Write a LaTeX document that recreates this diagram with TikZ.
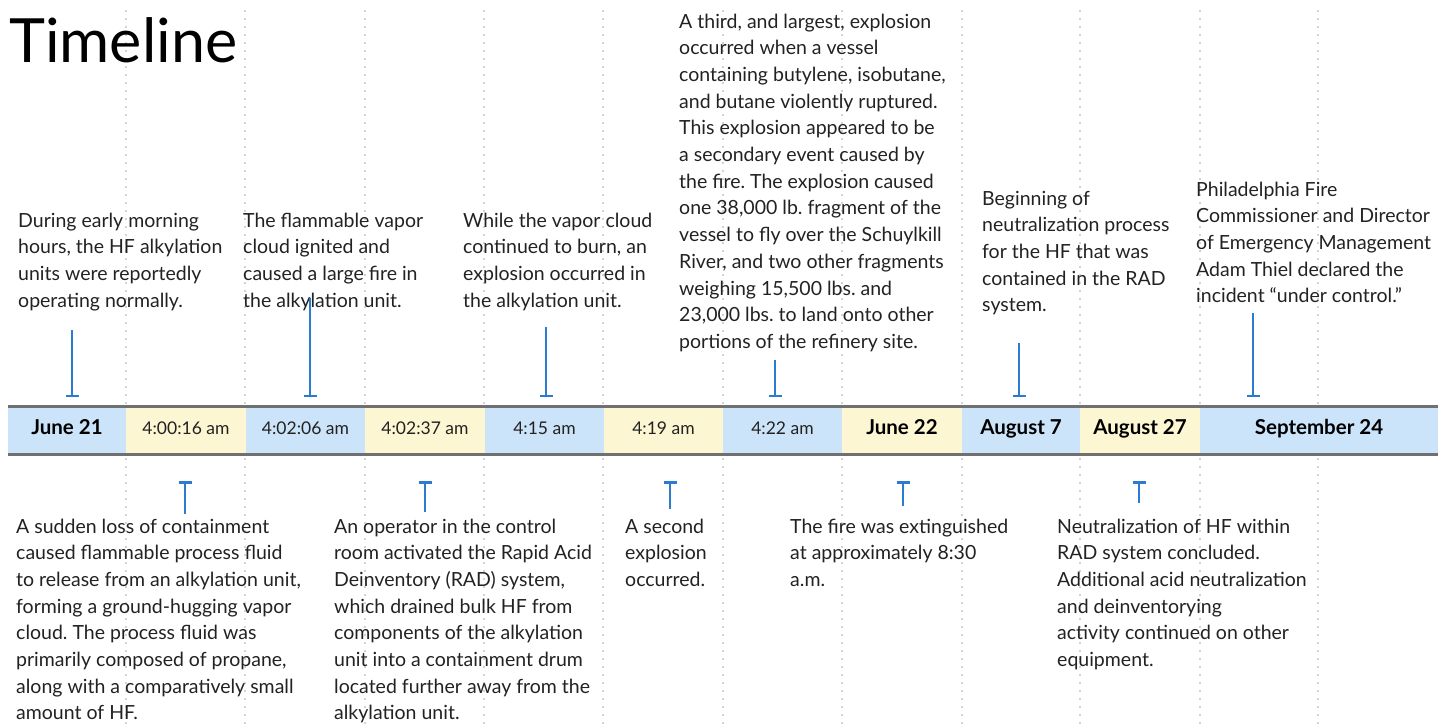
\documentclass[tikz,border=0pt]{standalone}
\usepackage{fontspec}
\setmainfont{Lato}
\usetikzlibrary{arrows.meta,positioning}
\frenchspacing

\definecolor{barblue}{HTML}{CCE4F9}
\definecolor{baryellow}{HTML}{FDF6D3}
\definecolor{tickblue}{HTML}{2B7BD3}
\definecolor{barline}{HTML}{707070}
\definecolor{textgray}{HTML}{222222}

\tikzset{
  grid/.style={gray!35, line width=2pt, dash pattern=on 1.6pt off 6.4pt},
  seg/.style={minimum width=#1, minimum height=47pt, inner sep=0pt, text height=12pt, text depth=3pt},
  timelbl/.style={font=\fontsize{17.5}{20}\selectfont, text=textgray},
  datelbl/.style={font=\fontsize{20.5}{22}\selectfont\bfseries, text=black},
  evtext/.style={anchor=base west, align=left, inner sep=0pt, text=textgray,
    font=\fontsize{19.5}{26.7}\selectfont\frenchspacing},
  tick/.style={tickblue, line width=2.5pt, -{Bar[width=13pt]}}
}

\begin{document}
\begin{tikzpicture}[x=1pt,y=-1pt]
        \useasboundingbox (0,0) rectangle (1450,724);

        % dotted guides
        \draw [grid] (126,10) -- (126,724);
        \draw [grid] (245,10) -- (245,724);
        \draw [grid] (365,10) -- (365,724);
        \draw [grid] (484,10) -- (484,724);
        \draw [grid] (603,10) -- (603,724);
        \draw [grid] (723,10) -- (723,724);
        \draw [grid] (842,10) -- (842,724);
        \draw [grid] (962,10) -- (962,724);
        \draw [grid] (1080,10) -- (1080,724);
        \draw [grid] (1200,10) -- (1200,724);
        \draw [grid] (1318,10) -- (1318,724);

        \node [anchor=base west, inner sep=0pt, font=\fontsize{61}{61}\selectfont] (title) at (9,62) {Timeline};

        % the bar
        \node [seg=118pt, fill=barblue, datelbl] (jun21) at (67,430) {June 21};
        \node [seg=120pt, fill=baryellow, timelbl] (t1) at (186,430) {4:00:16 am};
        \node [seg=119pt, fill=barblue, timelbl] (t2) at (305.5,430) {4:02:06 am};
        \node [seg=120pt, fill=baryellow, timelbl] (t3) at (425,430) {4:02:37 am};
        \node [seg=119pt, fill=barblue, timelbl] (t4) at (544.5,430) {4:15 am};
        \node [seg=119pt, fill=baryellow, timelbl] (t5) at (663.5,430) {4:19 am};
        \node [seg=119pt, fill=barblue, timelbl] (t6) at (782.5,430) {4:22 am};
        \node [seg=120pt, fill=baryellow, datelbl] (jun22) at (902,430) {June 22};
        \node [seg=118pt, fill=barblue, datelbl] (aug7) at (1021,430) {August 7};
        \node [seg=120pt, fill=baryellow, datelbl] (aug27) at (1140,430) {August 27};
        \node [seg=238pt, fill=barblue, datelbl] (sep24) at (1319,430) {September 24};
        \draw [barline, line width=3pt] (8,406) -- (1438,406);
        \draw [barline, line width=3pt] (8,454) -- (1438,454);

        % events above (placed by the baseline of the last line)
        \node [evtext] (ev1) at (18,307.1) {During early morning\\hours, the HF alkylation\\units were reportedly\\operating normally.};
        \node [evtext] (ev3) at (243,307.1) {The flammable vapor\\cloud ignited and\\caused a large fire in\\the alkylation unit.};
        \node [evtext] (ev5) at (463,307.1) {While the vapor cloud\\continued to burn, an\\explosion occurred in\\the alkylation unit.};
        \node [evtext] (ev7) at (679,348.4) {A third, and largest, explosion\\occurred when a vessel\\containing butylene, isobutane,\\and butane violently ruptured.\\This explosion appeared to be\\a secondary event caused by\\the fire. The explosion caused\\one 38,000 lb. fragment of the\\vessel to fly over the Schuylkill\\River, and two other fragments\\weighing 15,500 lbs. and\\23,000 lbs. to land onto other\\portions of the refinery site.};
        \node [evtext] (ev9) at (982,311.8) {Beginning of\\neutralization process\\for the HF that was\\contained in the RAD\\system.};
        \node [evtext] (ev11) at (1196,302.8) {Philadelphia Fire\\Commissioner and Director\\of Emergency Management\\Adam Thiel declared the\\incident “under control.”};

        % events below
        \node [evtext] (ev2) at (16,719.9) {A sudden loss of containment\\caused flammable process fluid\\to release from an alkylation unit,\\forming a ground-hugging vapor\\cloud. The process fluid was\\primarily composed of propane,\\along with a comparatively small\\amount of HF.};
        \node [evtext] (ev4) at (334,719.9) {An operator in the control\\room activated the Rapid Acid\\Deinventory (RAD) system,\\which drained bulk HF from\\components of the alkylation\\unit into a containment drum\\located further away from the\\alkylation unit.};
        \node [evtext] (ev6) at (625,586.4) {A second\\explosion\\occurred.};
        \node [evtext] (ev8) at (790,586.4) {The fire was extinguished\\at approximately 8:30\\a.m.};
        \node [evtext] (ev10) at (1057,666.5) {Neutralization of HF within\\RAD system concluded.\\Additional acid neutralization\\and deinventorying\\activity continued on other\\equipment.};

        % ticks
        \coordinate (ev1a) at (72,330);   \coordinate (ev1b) at (72,397);
        \coordinate (ev3a) at (310,298);  \coordinate (ev3b) at (310,397);
        \coordinate (ev5a) at (546,327);  \coordinate (ev5b) at (546,397);
        \coordinate (ev7a) at (775,360);  \coordinate (ev7b) at (775,397);
        \coordinate (ev9a) at (1019,343); \coordinate (ev9b) at (1019,397);
        \coordinate (ev11a) at (1253,313); \coordinate (ev11b) at (1253,397);
        \draw [tick] (ev1a) -- (ev1b);
        \draw [tick] (ev3a) -- (ev3b);
        \draw [tick] (ev5a) -- (ev5b);
        \draw [tick] (ev7a) -- (ev7b);
        \draw [tick] (ev9a) -- (ev9b);
        \draw [tick] (ev11a) -- (ev11b);

        \coordinate (ev2a) at (185,514);  \coordinate (ev2b) at (185,481);
        \coordinate (ev4a) at (425,512);  \coordinate (ev4b) at (425,481);
        \coordinate (ev6a) at (670,509);  \coordinate (ev6b) at (670,481);
        \coordinate (ev8a) at (903,506);  \coordinate (ev8b) at (903,481);
        \coordinate (ev10a) at (1139,503); \coordinate (ev10b) at (1139,481);
        \draw [tick] (ev2a) -- (ev2b);
        \draw [tick] (ev4a) -- (ev4b);
        \draw [tick] (ev6a) -- (ev6b);
        \draw [tick] (ev8a) -- (ev8b);
        \draw [tick] (ev10a) -- (ev10b);
    \end{tikzpicture}
\end{document}
